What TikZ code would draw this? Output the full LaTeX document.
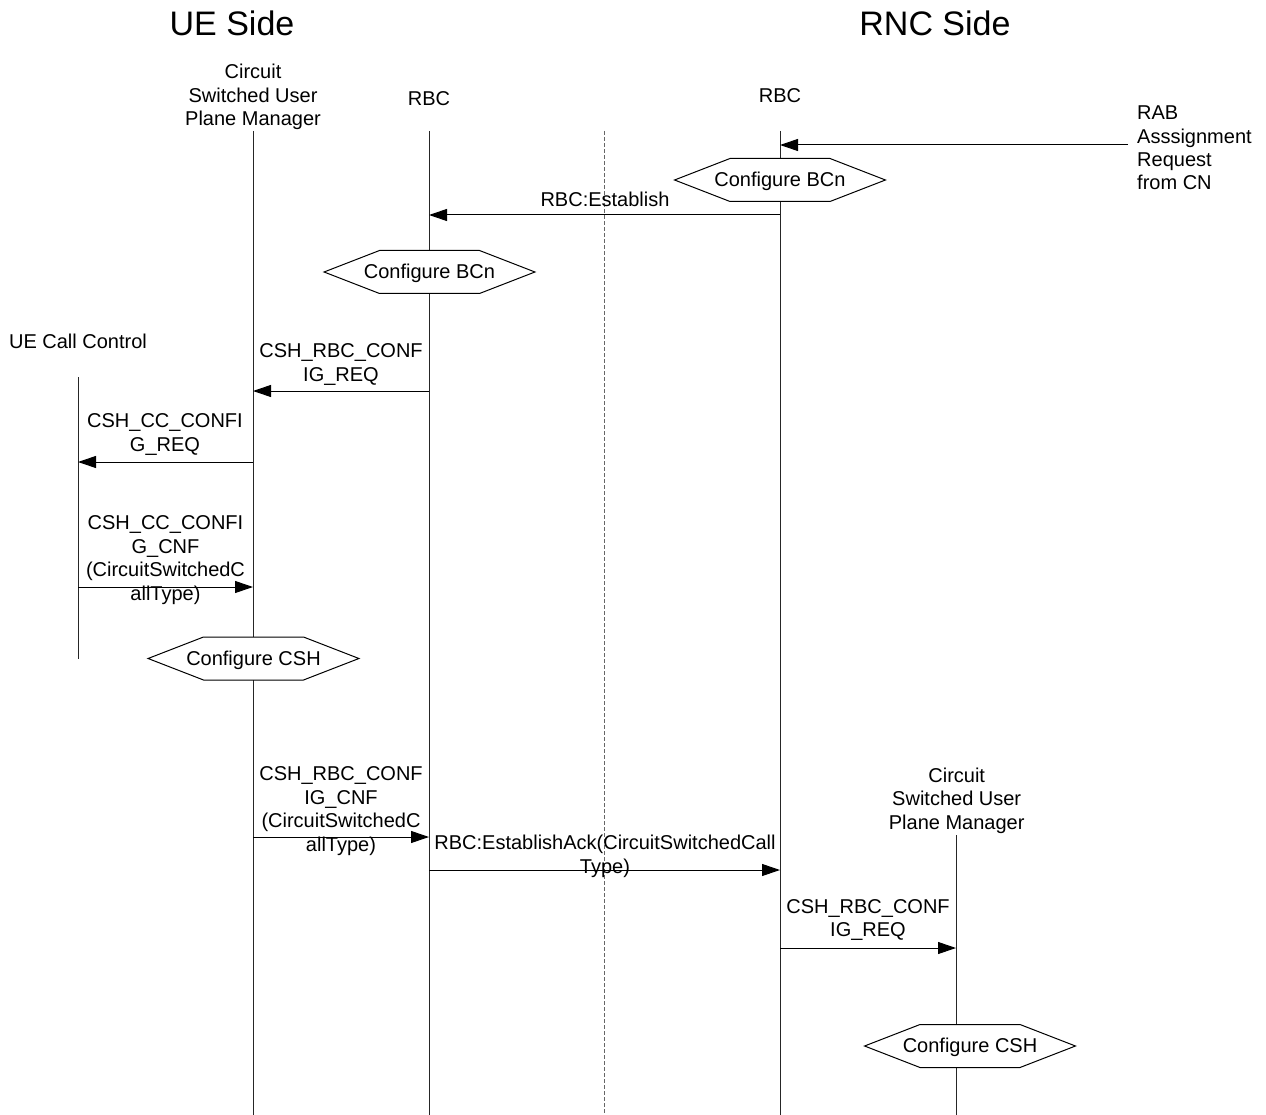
\documentclass[tikz,border=0pt]{standalone}
\usepackage{fontspec}
\setmainfont{Liberation Sans}
\usetikzlibrary{arrows.meta,shapes.symbols}

% action label: fixed 100pt body, wider text overhangs evenly into the points
\newcommand{\actiontext}[1]{\makebox[100pt][c]{#1}}

\tikzset{
  lbl/.style={font=\fontsize{20}{23.4}\selectfont, inner sep=0pt, align=center, anchor=base},
  title/.style={font=\fontsize{34}{40}\selectfont, inner sep=0pt, anchor=base},
  lifeline/.style={draw=black!85, line width=1pt},
  sep/.style={draw=black!60, line width=1pt, dash pattern=on 4pt off 2pt},
  msg/.style={draw=black, line width=1pt, -{Triangle[length=18pt,width=12pt]}},
  hexa/.style={shape=signal, signal to=east and west, signal pointer angle=42.4,
    draw=black, fill=white, line width=1pt, minimum height=43pt,
    inner sep=0pt, text height=15pt, text depth=1.6pt, font=\fontsize{20}{23.4}\selectfont},
}

\begin{document}
\begin{tikzpicture}[x=1pt,y=-1pt]
\useasboundingbox (0,0) rectangle (1266,1115);

% side titles
\node[title] (ueside) at (232,35.7) {UE Side};
\node[title] (rncside) at (935,35.7) {RNC Side};

% participant labels (base = last line)
\node[lbl] (hCsupmU) at (253,125.7) {Circuit\\Switched User\\Plane Manager};
\node[lbl] (hRbcU) at (429,105.3) {RBC};
\node[lbl] (hRbcR) at (780,102.3) {RBC};
\node[lbl, align=left, anchor=base west] (hRab) at (1137,190) {RAB\\Asssignment\\Request\\from CN};
\node[lbl] (hUcc) at (78,348.3) {UE Call Control};
\node[lbl] (hCsupmR) at (956.7,829.3) {Circuit\\Switched User\\Plane Manager};

% lifeline ends
\coordinate (csupmUtop) at (253,131);   \coordinate (csupmUbot) at (253,1115);
\coordinate (rbcUtop) at (429,131);     \coordinate (rbcUbot) at (429,1115);
\coordinate (septop) at (604,131);      \coordinate (sepbot) at (604,1115);
\coordinate (rbcRtop) at (780,131);     \coordinate (rbcRbot) at (780,1115);
\coordinate (ucctop) at (78,377);       \coordinate (uccbot) at (78,659);
\coordinate (csupmRtop) at (956,835);   \coordinate (csupmRbot) at (956,1115);

\draw[lifeline] (csupmUtop) -- (csupmUbot);
\draw[lifeline] (rbcUtop) -- (rbcUbot);
\draw[sep] (septop) -- (sepbot);
\draw[lifeline] (rbcRtop) -- (rbcRbot);
\draw[lifeline] (ucctop) -- (uccbot);
\draw[lifeline] (csupmRtop) -- (csupmRbot);

% local actions
\node[hexa] (cfgBCnR) at (780,180) {\actiontext{Configure BCn}};
\node[hexa] (cfgBCnU) at (429.5,272) {\actiontext{Configure BCn}};
\node[hexa] (cfgCSHU) at (253.5,658.5) {\actiontext{Configure CSH}};
\node[hexa] (cfgCSHR) at (970,1046) {\actiontext{Configure CSH}};

% message end points
\coordinate (rabSrc) at (1128,145);  \coordinate (rabDst) at (780,145);
\coordinate (estS) at (780,215);     \coordinate (estD) at (429,215);
\coordinate (rreqS) at (429,391);    \coordinate (rreqD) at (253,391);
\coordinate (creqS) at (253,462);    \coordinate (creqD) at (78,462);
\coordinate (ccnfS) at (78,587);     \coordinate (ccnfD) at (253,587);
\coordinate (rcnfS) at (253,837);    \coordinate (rcnfD) at (429,837);
\coordinate (ackS) at (429,870);     \coordinate (ackD) at (780,870);
\coordinate (nreqS) at (780,948);    \coordinate (nreqD) at (956,948);

% messages
\draw[msg] (rabSrc) -- (rabDst);
\draw[msg] (estS) -- (estD);
\draw[msg] (rreqS) -- (rreqD);
\draw[msg] (creqS) -- (creqD);
\draw[msg] (ccnfS) -- (ccnfD);
\draw[msg] (rcnfS) -- (rcnfD);
\draw[msg] (ackS) -- (ackD);
\draw[msg] (nreqS) -- (nreqD);

% message labels (base = last line)
\node[lbl] (lEst) at (605,206.7) {RBC:Establish};
\node[lbl] (lRreq) at (341,381) {CSH\_RBC\_CONF\\IG\_REQ};
\node[lbl] (lCreq) at (165,451) {CSH\_CC\_CONFI\\G\_REQ};
\node[lbl] (lCcnf) at (165.5,600) {CSH\_CC\_CONFI\\G\_CNF\\(CircuitSwitchedC\\allType)};
\node[lbl] (lRcnf) at (341,851) {CSH\_RBC\_CONF\\IG\_CNF\\(CircuitSwitchedC\\allType)};
\node[lbl] (lAck) at (605,873.3) {RBC:EstablishAck(CircuitSwitchedCall\\Type)};
\node[lbl] (lNreq) at (868,936.7) {CSH\_RBC\_CONF\\IG\_REQ};
\end{tikzpicture}
\end{document}
